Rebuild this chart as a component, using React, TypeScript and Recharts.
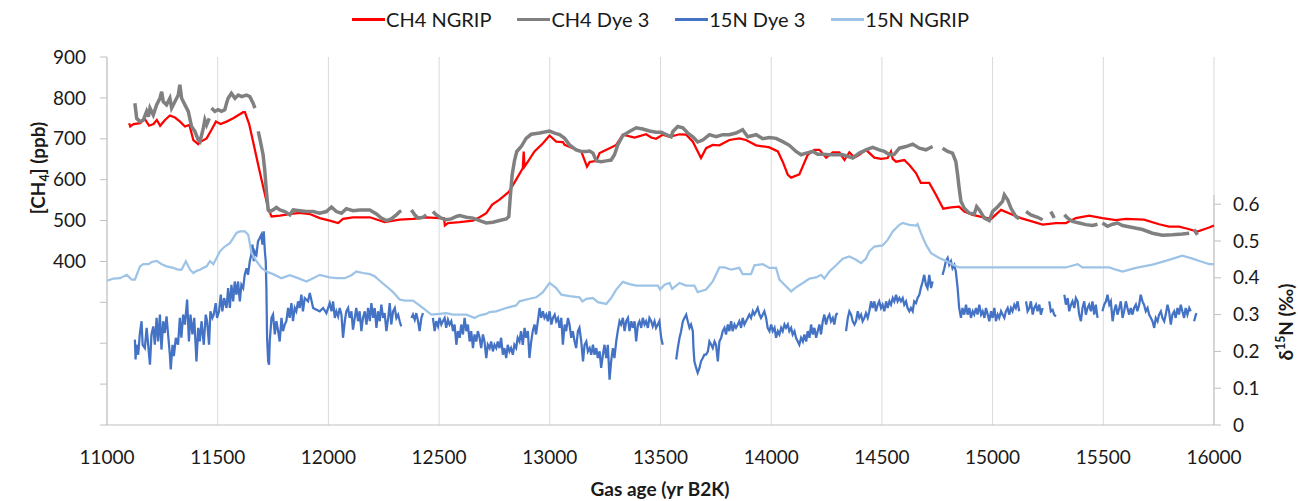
import { LineChart, Line, XAxis, YAxis, CartesianGrid, ReferenceLine } from "recharts";

type Pt = [number, number | null];

const xTicks = [11000, 11500, 12000, 12500, 13000, 13500, 14000, 14500, 15000, 15500, 16000];
const ch4Ticks = [0, 100, 200, 300, 400, 500, 600, 700, 800, 900];
const d15nTicks = [0, 0.1, 0.2, 0.3, 0.4, 0.5, 0.6];

// CH4 NGRIP (ppb)
const ch4Ngrip: Pt[] = [
  [11100, 738], [11105, 730], [11120, 736], [11150, 738], [11170, 749], [11190, 732], [11210, 736], [11225, 746],
  [11240, 732], [11262, 746], [11284, 757], [11307, 752], [11330, 742], [11352, 730], [11372, 734], [11390, 697],
  [11412, 687], [11420, 692], [11450, 701], [11472, 722], [11492, 742], [11513, 736], [11540, 742], [11570, 750],
  [11615, 765], [11623, 765], [11642, 736], [11660, 693], [11683, 636], [11705, 583], [11728, 530], [11743, 510],
  [11781, 512], [11841, 517], [11871, 519], [11916, 516], [11961, 506], [12006, 500], [12044, 494], [12066, 504],
  [12111, 508], [12187, 508], [12254, 496], [12322, 502], [12382, 504], [12442, 508], [12502, 506], [12522, 506],
  [12526, 488], [12540, 494], [12593, 496], [12653, 500], [12683, 508], [12713, 518], [12740, 539], [12773, 551],
  [12815, 570], [12848, 600], [12878, 628], [12882, 669], [12886, 632], [12901, 644], [12931, 669], [12969, 689],
  [12999, 708], [13029, 693], [13059, 692], [13067, 685], [13104, 677], [13142, 669], [13168, 632], [13180, 643],
  [13210, 646], [13225, 665], [13270, 677], [13300, 685], [13330, 710], [13383, 703], [13435, 711], [13458, 703],
  [13480, 700], [13510, 710], [13541, 705], [13586, 711], [13616, 710], [13646, 693], [13683, 653], [13706, 677],
  [13736, 685], [13766, 684], [13811, 697], [13856, 701], [13886, 697], [13932, 684], [13992, 679], [14030, 669],
  [14052, 644], [14075, 612], [14090, 605], [14127, 613], [14165, 661], [14195, 673], [14218, 673], [14248, 654],
  [14278, 667], [14308, 667], [14331, 648], [14353, 667], [14376, 654], [14398, 661], [14428, 673], [14466, 654],
  [14496, 651], [14526, 653], [14541, 669], [14549, 651], [14564, 644], [14601, 648], [14624, 636], [14654, 616],
  [14676, 592], [14714, 592], [14744, 563], [14777, 529], [14812, 532], [14849, 534], [14872, 522], [14910, 514],
  [14940, 510], [14993, 504], [15038, 526], [15090, 514], [15128, 506], [15226, 490], [15286, 494], [15331, 494],
  [15376, 506], [15436, 512], [15496, 506], [15557, 501], [15602, 504], [15684, 502], [15752, 491], [15797, 485],
  [15842, 485], [15880, 480], [15925, 473], [15978, 483], [16000, 488],
];

// CH4 Dye 3 (ppb), null = gap in record
const ch4Dye3: Pt[] = [
  [11126, 787], [11134, 750], [11149, 742], [11164, 746], [11179, 767], [11187, 754], [11194, 775], [11209, 758],
  [11224, 783], [11239, 799], [11247, 815], [11254, 791], [11269, 783], [11284, 799], [11292, 775], [11307, 791],
  [11322, 807], [11329, 832], [11337, 799], [11352, 783], [11367, 767], [11382, 730], [11397, 718], [11412, 697],
  [11420, 693], [11435, 726], [11442, 746], [11450, 734], [11462, 750], [11467, null],
  [11472, 775], [11487, 767], [11502, 771], [11517, 767], [11532, 771], [11540, 787], [11547, 799], [11562, 811],
  [11578, 799], [11593, 807], [11608, 803], [11630, 807], [11645, 803], [11660, 787], [11668, 775], [11675, null],
  [11683, 718], [11690, 701], [11705, 661], [11713, 620], [11720, 571], [11728, 526], [11735, 522], [11750, 526],
  [11765, 532], [11781, 526], [11803, 522], [11826, 514], [11841, 526], [11871, 524], [11901, 522], [11931, 522],
  [11961, 518], [11991, 522], [12014, 533], [12036, 522], [12059, 518], [12081, 529], [12111, 524], [12141, 526],
  [12187, 526], [12217, 516], [12239, 506], [12262, 500], [12284, 504], [12307, 514], [12322, 522], [12329, 524],
  [12350, null],
  [12375, 526], [12390, 514], [12405, 506], [12427, 508], [12442, 514], [12457, null],
  [12472, 522], [12487, 514], [12510, 506], [12532, 502], [12555, 504], [12578, 510], [12593, 512], [12623, 508],
  [12653, 506], [12683, 500], [12713, 494], [12743, 496], [12773, 500], [12803, 504], [12815, 510], [12821, 555],
  [12830, 612], [12841, 648], [12851, 669], [12871, 681], [12893, 701], [12916, 711], [12954, 714], [12999, 719],
  [13022, 714], [13044, 710], [13067, 701], [13089, 685], [13119, 673], [13142, 669], [13165, 669], [13180, 670],
  [13195, 665], [13210, 646], [13232, 644], [13255, 646], [13277, 648], [13292, 661], [13307, 685], [13330, 708],
  [13360, 718], [13390, 727], [13420, 724], [13450, 719], [13480, 716], [13503, 716], [13548, 705], [13556, 718],
  [13578, 730], [13601, 727], [13623, 714], [13646, 705], [13668, 692], [13691, 697], [13721, 710], [13751, 705],
  [13781, 710], [13811, 710], [13841, 714], [13871, 722], [13894, 705], [13932, 710], [13962, 700], [13992, 703],
  [14022, 701], [14052, 693], [14082, 684], [14112, 669], [14135, 661], [14158, 665], [14188, 669], [14210, 662],
  [14233, 662], [14263, 661], [14293, 661], [14323, 661], [14346, 657], [14368, 653], [14398, 665], [14428, 673],
  [14458, 679], [14488, 673], [14511, 669], [14534, 661], [14556, 662], [14579, 677], [14609, 681], [14639, 687],
  [14669, 677], [14699, 673], [14729, 681], [14750, null],
  [14774, 677], [14797, 669], [14819, 665], [14834, 644], [14842, 612], [14849, 579], [14857, 547], [14872, 530],
  [14895, 518], [14917, 516], [14928, 534], [14940, 526], [14963, 506], [14985, 500], [15000, 522], [15023, 534],
  [15045, 547], [15053, 563], [15068, 551], [15083, 530], [15105, 510], [15120, 504], [15135, null],
  [15151, 522], [15173, 514], [15203, 508], [15226, 502], [15245, null],
  [15263, 522], [15271, 514], [15278, 506], [15300, null],
  [15324, 514], [15339, 506], [15361, 498], [15391, 494], [15421, 490], [15451, 488], [15474, 491], [15485, null],
  [15496, 494], [15519, 486], [15542, 491], [15564, 494], [15587, 488], [15632, 483], [15677, 478], [15722, 469],
  [15767, 464], [15812, 465], [15857, 467], [15888, 469], [15900, null],
  [15910, 478], [15925, 465],
];

// d15N Dye 3 (permil)
const d15nDye3: Pt[] = [
  [11126, 0.232], [11129, 0.178], [11133, 0.218], [11141, 0.191], [11148, 0.246], [11156, 0.282], [11161, 0.218],
  [11171, 0.209], [11179, 0.264], [11186, 0.218], [11194, 0.164], [11201, 0.246], [11209, 0.268], [11216, 0.218],
  [11224, 0.291], [11231, 0.227], [11239, 0.3], [11246, 0.205], [11254, 0.282], [11261, 0.25], [11269, 0.295],
  [11276, 0.246], [11284, 0.191], [11288, 0.151], [11296, 0.218], [11302, 0.187], [11311, 0.237], [11321, 0.218],
  [11329, 0.291], [11336, 0.237], [11344, 0.3], [11352, 0.273], [11362, 0.341], [11370, 0.227], [11377, 0.3],
  [11386, 0.246], [11394, 0.291], [11404, 0.173], [11412, 0.264], [11419, 0.227], [11427, 0.282], [11437, 0.218],
  [11446, 0.3], [11452, 0.282], [11461, 0.218], [11467, 0.309], [11476, 0.291], [11482, 0.3], [11491, 0.331],
  [11497, 0.291], [11506, 0.309], [11514, 0.354], [11521, 0.309], [11529, 0.345], [11540, 0.318], [11547, 0.372],
  [11555, 0.318], [11562, 0.381], [11570, 0.336], [11577, 0.39], [11585, 0.354], [11592, 0.39], [11600, 0.336],
  [11607, 0.381], [11615, 0.372], [11622, 0.408], [11630, 0.426], [11637, 0.408], [11645, 0.445], [11652, 0.463],
  [11657, 0.49], [11663, 0.445], [11667, 0.472], [11675, 0.463], [11682, 0.499], [11690, 0.508], [11697, 0.517],
  [11702, 0.49], [11708, 0.526], [11713, 0.472], [11717, 0.445], [11720, 0.372], [11723, 0.237], [11728, 0.173],
  [11732, 0.164], [11735, 0.227], [11743, 0.291], [11750, 0.3], [11758, 0.246], [11765, 0.282], [11773, 0.255],
  [11780, 0.227], [11788, 0.291], [11795, 0.255], [11803, 0.273], [11810, 0.282], [11818, 0.318], [11825, 0.291],
  [11833, 0.331], [11840, 0.282], [11848, 0.318], [11855, 0.309], [11863, 0.336], [11870, 0.318], [11878, 0.354],
  [11885, 0.309], [11893, 0.345], [11908, 0.336], [11916, 0.359], [11931, 0.318], [11946, 0.313], [11961, 0.309],
  [11976, 0.318], [11991, 0.304], [12006, 0.331], [12014, 0.309], [12021, 0.336], [12029, 0.291], [12036, 0.309],
  [12044, 0.295], [12051, 0.318], [12059, 0.3], [12066, 0.237], [12074, 0.282], [12081, 0.309], [12089, 0.318],
  [12096, 0.291], [12104, 0.309], [12111, 0.259], [12119, 0.291], [12126, 0.318], [12134, 0.282], [12141, 0.309],
  [12149, 0.255], [12156, 0.291], [12164, 0.309], [12172, 0.273], [12179, 0.318], [12187, 0.282], [12194, 0.331],
  [12202, 0.291], [12209, 0.318], [12217, 0.264], [12224, 0.309], [12232, 0.282], [12239, 0.327], [12247, 0.291],
  [12254, 0.304], [12262, 0.255], [12270, 0.291], [12277, 0.331], [12284, 0.273], [12292, 0.309], [12300, 0.318],
  [12307, 0.291], [12315, 0.3], [12322, 0.282], [12329, 0.268], [12350, null],
  [12375, 0.291], [12382, 0.3], [12390, 0.286], [12397, 0.304], [12405, 0.282], [12412, 0.255], [12420, 0.291],
  [12427, 0.304], [12450, null],
  [12472, 0.291], [12480, 0.255], [12487, 0.282], [12495, 0.268], [12502, 0.291], [12510, 0.273], [12517, 0.282],
  [12525, 0.291], [12532, 0.264], [12540, 0.286], [12547, 0.273], [12555, 0.282], [12563, 0.255], [12570, 0.273],
  [12578, 0.218], [12585, 0.255], [12593, 0.237], [12600, 0.273], [12608, 0.246], [12615, 0.291], [12623, 0.255],
  [12630, 0.273], [12638, 0.227], [12645, 0.255], [12653, 0.209], [12660, 0.246], [12668, 0.227], [12675, 0.255],
  [12683, 0.237], [12690, 0.209], [12698, 0.246], [12705, 0.227], [12713, 0.182], [12720, 0.218], [12728, 0.209],
  [12735, 0.227], [12743, 0.2], [12750, 0.218], [12758, 0.209], [12765, 0.227], [12773, 0.209], [12780, 0.237],
  [12788, 0.191], [12795, 0.209], [12803, 0.182], [12810, 0.218], [12818, 0.2], [12825, 0.209], [12833, 0.191],
  [12840, 0.218], [12848, 0.209], [12855, 0.237], [12863, 0.227], [12870, 0.255], [12878, 0.218], [12886, 0.264],
  [12893, 0.237], [12901, 0.255], [12908, 0.182], [12916, 0.227], [12923, 0.255], [12931, 0.273], [12938, 0.246],
  [12946, 0.282], [12954, 0.318], [12961, 0.291], [12969, 0.309], [12976, 0.291], [12984, 0.3], [12991, 0.282],
  [12999, 0.309], [13007, 0.273], [13014, 0.291], [13022, 0.3], [13029, 0.282], [13037, 0.291], [13044, 0.264],
  [13052, 0.291], [13059, 0.218], [13067, 0.273], [13074, 0.255], [13082, 0.291], [13089, 0.273], [13097, 0.237],
  [13104, 0.255], [13112, 0.227], [13119, 0.209], [13127, 0.255], [13134, 0.264], [13142, 0.227], [13150, 0.173],
  [13157, 0.218], [13165, 0.227], [13172, 0.2], [13180, 0.209], [13187, 0.191], [13195, 0.218], [13202, 0.191],
  [13210, 0.209], [13217, 0.182], [13225, 0.2], [13232, 0.155], [13240, 0.191], [13247, 0.218], [13255, 0.182],
  [13262, 0.218], [13270, 0.123], [13277, 0.173], [13285, 0.209], [13292, 0.182], [13300, 0.227], [13307, 0.255],
  [13315, 0.282], [13322, 0.273], [13330, 0.291], [13338, 0.255], [13345, 0.282], [13353, 0.291], [13360, 0.255],
  [13368, 0.282], [13375, 0.264], [13383, 0.282], [13390, 0.227], [13398, 0.273], [13405, 0.282], [13413, 0.264],
  [13420, 0.291], [13428, 0.273], [13435, 0.282], [13443, 0.264], [13450, 0.291], [13458, 0.282], [13465, 0.268],
  [13473, 0.282], [13480, 0.264], [13488, 0.273], [13495, 0.282], [13503, 0.237], [13510, 0.218], [13540, null],
  [13571, 0.178], [13578, 0.209], [13586, 0.237], [13593, 0.255], [13601, 0.282], [13608, 0.291], [13616, 0.3],
  [13623, 0.282], [13631, 0.264], [13638, 0.273], [13646, 0.255], [13649, 0.209], [13653, 0.173], [13661, 0.155],
  [13668, 0.142], [13676, 0.155], [13683, 0.173], [13691, 0.182], [13698, 0.191], [13706, 0.191], [13714, 0.2],
  [13721, 0.227], [13729, 0.218], [13736, 0.209], [13744, 0.227], [13751, 0.218], [13759, 0.173], [13766, 0.227],
  [13774, 0.237], [13781, 0.255], [13789, 0.264], [13796, 0.246], [13804, 0.273], [13811, 0.255], [13819, 0.282],
  [13826, 0.255], [13834, 0.273], [13841, 0.264], [13849, 0.273], [13856, 0.282], [13864, 0.264], [13871, 0.291],
  [13879, 0.273], [13886, 0.282], [13894, 0.291], [13901, 0.3], [13909, 0.291], [13917, 0.309], [13924, 0.3],
  [13932, 0.309], [13939, 0.318], [13947, 0.3], [13954, 0.291], [13962, 0.3], [13969, 0.309], [13977, 0.291],
  [13984, 0.264], [13992, 0.255], [14000, 0.273], [14007, 0.255], [14015, 0.264], [14022, 0.237], [14030, 0.255],
  [14037, 0.246], [14045, 0.264], [14052, 0.255], [14060, 0.273], [14067, 0.264], [14075, 0.273], [14082, 0.255],
  [14090, 0.264], [14097, 0.246], [14105, 0.255], [14112, 0.237], [14120, 0.227], [14127, 0.218], [14135, 0.237],
  [14143, 0.227], [14150, 0.246], [14158, 0.227], [14165, 0.255], [14173, 0.237], [14180, 0.273], [14188, 0.246],
  [14195, 0.264], [14203, 0.237], [14210, 0.255], [14218, 0.273], [14225, 0.246], [14233, 0.282], [14240, 0.3],
  [14248, 0.273], [14255, 0.291], [14263, 0.3], [14270, 0.282], [14278, 0.291], [14285, 0.273], [14293, 0.3],
  [14300, 0.304], [14320, null],
  [14338, 0.255], [14346, 0.291], [14353, 0.309], [14361, 0.3], [14368, 0.282], [14376, 0.273], [14383, 0.282],
  [14391, 0.309], [14398, 0.291], [14406, 0.3], [14413, 0.282], [14421, 0.291], [14428, 0.304], [14436, 0.291],
  [14443, 0.309], [14451, 0.336], [14458, 0.318], [14466, 0.336], [14473, 0.309], [14481, 0.327], [14488, 0.336],
  [14496, 0.318], [14503, 0.327], [14511, 0.309], [14519, 0.336], [14526, 0.318], [14534, 0.336], [14541, 0.327],
  [14549, 0.345], [14556, 0.336], [14564, 0.354], [14571, 0.336], [14579, 0.345], [14586, 0.336], [14594, 0.345],
  [14601, 0.327], [14609, 0.336], [14616, 0.318], [14624, 0.309], [14631, 0.318], [14639, 0.309], [14646, 0.336],
  [14654, 0.331], [14661, 0.345], [14669, 0.354], [14676, 0.372], [14684, 0.39], [14691, 0.408], [14699, 0.381],
  [14706, 0.372], [14714, 0.408], [14722, 0.372], [14729, 0.39], [14750, null],
  [14774, 0.408], [14782, 0.426], [14789, 0.445], [14797, 0.454], [14804, 0.435], [14812, 0.445], [14819, 0.426],
  [14827, 0.435], [14834, 0.417], [14842, 0.372], [14849, 0.318], [14857, 0.291], [14864, 0.318], [14872, 0.3],
  [14880, 0.327], [14887, 0.3], [14895, 0.318], [14902, 0.291], [14910, 0.309], [14917, 0.3], [14925, 0.318],
  [14932, 0.3], [14940, 0.327], [14948, 0.3], [14955, 0.309], [14963, 0.291], [14970, 0.318], [14978, 0.3],
  [14985, 0.282], [14993, 0.309], [15000, 0.291], [15008, 0.318], [15015, 0.282], [15023, 0.3], [15030, 0.291],
  [15038, 0.309], [15045, 0.3], [15053, 0.291], [15060, 0.309], [15068, 0.318], [15075, 0.3], [15083, 0.318],
  [15090, 0.309], [15098, 0.327], [15105, 0.318], [15113, 0.336], [15120, 0.309], [15135, null],
  [15151, 0.336], [15158, 0.309], [15166, 0.318], [15173, 0.336], [15181, 0.3], [15188, 0.318], [15196, 0.327],
  [15203, 0.309], [15211, 0.327], [15218, 0.3], [15226, 0.318], [15240, null],
  [15256, 0.336], [15263, 0.309], [15271, 0.313], [15278, 0.3], [15286, 0.295], [15305, null],
  [15324, 0.354], [15331, 0.327], [15339, 0.345], [15346, 0.309], [15354, 0.327], [15361, 0.336], [15369, 0.318],
  [15376, 0.345], [15384, 0.336], [15391, 0.3], [15399, 0.282], [15406, 0.318], [15414, 0.336], [15421, 0.3],
  [15429, 0.318], [15436, 0.327], [15444, 0.309], [15451, 0.336], [15459, 0.3], [15466, 0.327], [15474, 0.291],
  [15485, null],
  [15496, 0.309], [15504, 0.327], [15512, 0.336], [15519, 0.354], [15527, 0.327], [15534, 0.336], [15542, 0.282],
  [15549, 0.309], [15557, 0.327], [15564, 0.3], [15572, 0.318], [15579, 0.336], [15587, 0.291], [15594, 0.309],
  [15602, 0.336], [15609, 0.318], [15617, 0.3], [15624, 0.318], [15632, 0.3], [15639, 0.318], [15647, 0.327],
  [15654, 0.309], [15662, 0.327], [15669, 0.354], [15677, 0.336], [15684, 0.327], [15692, 0.309], [15700, 0.318],
  [15707, 0.3], [15715, 0.291], [15722, 0.282], [15730, 0.264], [15737, 0.291], [15745, 0.282], [15752, 0.3],
  [15760, 0.309], [15767, 0.291], [15775, 0.282], [15782, 0.3], [15790, 0.327], [15797, 0.309], [15805, 0.273],
  [15812, 0.3], [15820, 0.309], [15827, 0.291], [15835, 0.318], [15842, 0.3], [15850, 0.327], [15857, 0.309],
  [15865, 0.291], [15872, 0.318], [15880, 0.3], [15888, 0.318], [15895, 0.309], [15903, null],
  [15910, 0.282], [15918, 0.3], [15921, 0.304],
];

// d15N NGRIP (permil)
const d15nNgrip: Pt[] = [
  [11000, 0.392], [11029, 0.398], [11059, 0.399], [11089, 0.408], [11112, 0.395], [11126, 0.395], [11149, 0.431],
  [11164, 0.437], [11187, 0.437], [11202, 0.443], [11224, 0.446], [11247, 0.437], [11269, 0.431], [11299, 0.427],
  [11322, 0.422], [11337, 0.422], [11356, 0.445], [11375, 0.422], [11390, 0.413], [11405, 0.419], [11420, 0.422],
  [11435, 0.427], [11450, 0.431], [11465, 0.445], [11480, 0.437], [11495, 0.454], [11510, 0.472], [11532, 0.485],
  [11555, 0.494], [11570, 0.508], [11585, 0.522], [11600, 0.526], [11623, 0.526], [11638, 0.517], [11653, 0.467],
  [11675, 0.445], [11698, 0.427], [11720, 0.417], [11750, 0.41], [11788, 0.399], [11826, 0.407], [11863, 0.399],
  [11901, 0.39], [11931, 0.399], [11961, 0.408], [12006, 0.401], [12036, 0.399], [12074, 0.399], [12104, 0.407],
  [12126, 0.417], [12157, 0.413], [12187, 0.41], [12209, 0.404], [12232, 0.392], [12262, 0.377], [12292, 0.361],
  [12322, 0.341], [12345, 0.338], [12382, 0.338], [12412, 0.325], [12442, 0.311], [12465, 0.3], [12502, 0.302],
  [12532, 0.304], [12563, 0.3], [12623, 0.3], [12660, 0.291], [12683, 0.298], [12713, 0.302], [12728, 0.307],
  [12758, 0.309], [12803, 0.318], [12848, 0.325], [12863, 0.336], [12909, 0.343], [12939, 0.347], [12969, 0.361],
  [12999, 0.386], [13029, 0.372], [13052, 0.354], [13089, 0.35], [13134, 0.347], [13147, 0.336], [13165, 0.343],
  [13195, 0.345], [13217, 0.334], [13255, 0.329], [13277, 0.345], [13300, 0.368], [13330, 0.389], [13360, 0.383],
  [13390, 0.379], [13435, 0.379], [13488, 0.379], [13498, 0.368], [13518, 0.381], [13541, 0.386], [13553, 0.37],
  [13586, 0.386], [13616, 0.379], [13653, 0.379], [13668, 0.361], [13706, 0.368], [13736, 0.39], [13766, 0.428],
  [13789, 0.428], [13819, 0.422], [13856, 0.427], [13871, 0.41], [13909, 0.41], [13924, 0.434], [13962, 0.437],
  [13992, 0.427], [14022, 0.427], [14037, 0.395], [14060, 0.381], [14090, 0.363], [14112, 0.374], [14143, 0.386],
  [14173, 0.398], [14203, 0.401], [14225, 0.408], [14240, 0.398], [14263, 0.417], [14293, 0.434], [14323, 0.452],
  [14353, 0.458], [14383, 0.449], [14406, 0.44], [14428, 0.452], [14443, 0.472], [14466, 0.485], [14503, 0.488],
  [14526, 0.503], [14549, 0.526], [14579, 0.544], [14594, 0.549], [14624, 0.544], [14654, 0.542], [14661, 0.546],
  [14676, 0.522], [14699, 0.49], [14722, 0.467], [14759, 0.454], [14789, 0.446], [14819, 0.436], [14849, 0.428],
  [14910, 0.428], [14985, 0.428], [15331, 0.428], [15384, 0.437], [15406, 0.428], [15527, 0.428], [15557, 0.422],
  [15587, 0.417], [15647, 0.427], [15722, 0.436], [15782, 0.446], [15857, 0.46], [15903, 0.452], [15948, 0.443],
  [15978, 0.437], [16000, 0.437],
];

const toRows = (pts: Pt[]) => pts.map(([t, v]) => ({ t, v }));

const series = [
  { name: "CH4 NGRIP", data: toRows(ch4Ngrip), color: "#ff0000", axis: "left", width: 2.25 },
  { name: "CH4 Dye 3", data: toRows(ch4Dye3), color: "#808080", axis: "left", width: 3.5 },
  { name: "15N Dye 3", data: toRows(d15nDye3), color: "#4472c4", axis: "right", width: 2.25 },
  { name: "15N NGRIP", data: toRows(d15nNgrip), color: "#9dc3e6", axis: "right", width: 2.25 },
];

const FONT = "Lato, 'Noto Sans', sans-serif";
const TXT = "#1a1a1a";
const AXIS = "#bfbfbf";

const LeftTick = (props: any) => {
  const { x, y, payload } = props;
  if (payload.value < 400) return <g />;
  return (
    <text x={x} y={y} dy="0.35em" textAnchor="end" fontSize={19} fill={TXT} fontFamily={FONT}>
      {payload.value}
    </text>
  );
};

const RightTick = (props: any) => {
  const { x, y, payload } = props;
  return (
    <text x={x} y={y} dy="0.35em" textAnchor="start" fontSize={19} fill={TXT} fontFamily={FONT}>
      {payload.value}
    </text>
  );
};

const BottomTick = (props: any) => {
  const { x, y, payload } = props;
  return (
    <text x={x} y={y} dy={37} textAnchor="middle" fontSize={19} fill={TXT} fontFamily={FONT}>
      {payload.value}
    </text>
  );
};

export default function App() {
  return (
    <div style={{ position: "absolute", left: 0, top: 0, width: 1298, height: 501, background: "#fff", fontFamily: FONT }}>
      <div
        style={{
          position: "absolute",
          left: 107,
          width: 1107,
          top: 7,
          display: "flex",
          justifyContent: "center",
          gap: 26,
          fontSize: 20,
          color: TXT,
        }}
      >
        {series.map((s) => (
          <div key={s.name} style={{ display: "flex", alignItems: "center" }}>
            <span style={{ display: "inline-block", width: 33, height: 3, background: s.color, marginRight: 1 }} />
            <span>{s.name}</span>
          </div>
        ))}
      </div>

      <LineChart width={1298} height={501} margin={{ top: 57, right: 0, left: 0, bottom: 30 }}>
        <CartesianGrid vertical horizontal={false} stroke="#d9d9d9" xAxisId="x" yAxisId="left" />
        <XAxis
          xAxisId="x"
          dataKey="t"
          type="number"
          domain={[11000, 16000]}
          ticks={xTicks}
          allowDuplicatedCategory={false}
          tickLine={false}
          tickSize={0}
          axisLine={{ stroke: AXIS }}
          tick={<BottomTick />}
          height={46}
        />
        <YAxis
          yAxisId="left"
          type="number"
          domain={[0, 900]}
          ticks={ch4Ticks}
          width={107}
          tickSize={7}
          tickMargin={14}
          tickLine={{ stroke: AXIS }}
          axisLine={{ stroke: AXIS }}
          tick={<LeftTick />}
        />
        <YAxis
          yAxisId="right"
          orientation="right"
          type="number"
          domain={[0, 1]}
          ticks={d15nTicks}
          width={84}
          tickSize={7}
          tickMargin={12}
          tickLine={{ stroke: AXIS }}
          axisLine={false}
          tick={<RightTick />}
        />
        <ReferenceLine
          xAxisId="x"
          yAxisId="right"
          segment={[
            { x: 16000, y: 0 },
            { x: 16000, y: 0.625 },
          ]}
          stroke={AXIS}
        />
        {series.map((s) => (
          <Line
            key={s.name}
            xAxisId="x"
            yAxisId={s.axis}
            data={s.data}
            dataKey="v"
            name={s.name}
            type="linear"
            stroke={s.color}
            strokeWidth={s.width}
            dot={false}
            activeDot={false}
            isAnimationActive={false}
          />
        ))}
      </LineChart>

      <div
        style={{
          position: "absolute",
          left: 37,
          top: 168,
          transform: "translate(-50%, -50%) rotate(-90deg)",
          whiteSpace: "nowrap",
          fontWeight: 700,
          fontSize: 19,
          color: TXT,
        }}
      >
        [CH<sub style={{ fontSize: "0.65em", lineHeight: 0 }}>4</sub>] (ppb)
      </div>
      <div
        style={{
          position: "absolute",
          left: 1285,
          top: 322,
          transform: "translate(-50%, -50%) rotate(-90deg)",
          whiteSpace: "nowrap",
          fontWeight: 700,
          fontSize: 19,
          color: TXT,
        }}
      >
        δ<sup style={{ fontSize: "0.65em", lineHeight: 0 }}>15</sup>N (‰)
      </div>
      <div
        style={{
          position: "absolute",
          left: 660,
          top: 488,
          transform: "translate(-50%, -50%)",
          whiteSpace: "nowrap",
          fontWeight: 700,
          fontSize: 19,
          color: TXT,
        }}
      >
        Gas age (yr B2K)
      </div>
    </div>
  );
}
